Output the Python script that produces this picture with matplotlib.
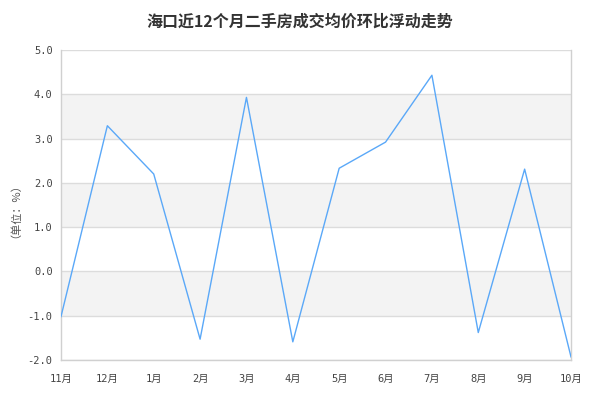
import matplotlib
matplotlib.use("Agg")
import matplotlib.pyplot as plt

plt.rcParams['font.family'] = ['Noto Sans CJK SC', 'DejaVu Sans']

months = ["11月", "12月", "1月", "2月", "3月", "4月", "5月", "6月", "7月", "8月", "9月", "10月"]
values = [-1.02, 3.29, 2.20, -1.53, 3.93, -1.59, 2.33, 2.92, 4.43, -1.38, 2.31, -1.93]
yticks = [-2.0, -1.0, 0.0, 1.0, 2.0, 3.0, 4.0, 5.0]
title = "海口近12个月二手房成交均价环比浮动走势"
ylabel = "（单位：%）"

fig = plt.figure(figsize=(6, 4), dpi=100)
ax = fig.add_axes([61/600, 40/400, 510/600, 310/400])

x = list(range(len(months)))
ax.set_xlim(0, len(months) - 1)
ax.set_ylim(-2, 5)

# alternating bands
for i in range(len(yticks) - 1):
    lo, hi = yticks[i], yticks[i + 1]
    if i % 2 == 1:
        ax.axhspan(lo, hi, color="#f3f3f3", zorder=0, lw=0)
for t in yticks:
    ax.axhline(t, color="#dcdcdc", lw=1, zorder=1)

ax.plot(x, values, color="#5aa8f8", lw=1, zorder=3)

ax.set_xticks(x)
ax.set_xticklabels(months, family=['DejaVu Sans Mono', 'Noto Sans CJK SC'])
ax.set_yticks(yticks)
ax.set_yticklabels([f"{t:.1f}" for t in yticks], family=['DejaVu Sans Mono'])
ax.tick_params(axis='both', length=0, labelsize=7.5, colors="#444444")
ax.tick_params(axis='x', pad=10)
ax.tick_params(axis='y', pad=6)

for s in ["left", "right", "bottom"]:
    ax.spines[s].set_color("#d0d0d0")
    ax.spines[s].set_linewidth(1)
ax.spines["top"].set_visible(False)

ax.set_ylabel(ylabel, fontsize=8, color="#555555", labelpad=9)
fig.text(0.5, 0.945, title, ha="center", va="center", fontsize=11.5, fontweight="bold", color="#333333")

fig.savefig("out.png", dpi=100)
